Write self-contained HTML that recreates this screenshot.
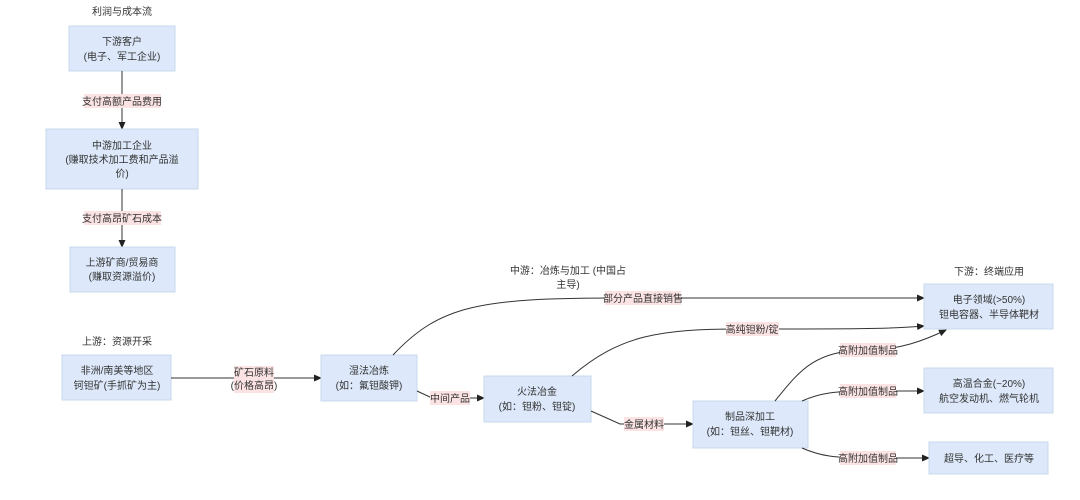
<!DOCTYPE html>
<html><head><meta charset="utf-8"><style>
html,body{margin:0;padding:0;background:#fff;}
svg{display:block;font-family:"Liberation Sans","Noto Sans CJK SC",sans-serif;}
.b{fill:#dde9fa;stroke:#c8d8ee;stroke-width:1;}
.t{font-size:10px;fill:#333;text-anchor:middle;}
.e{fill:none;stroke:#333;stroke-width:1;}
.lb{fill:#fbe3e4;}
</style></head><body>
<svg width="1080" height="500" viewBox="0 0 1080 500">
<defs><marker id="a" markerWidth="8" markerHeight="8" refX="7" refY="4" orient="auto" markerUnits="userSpaceOnUse"><path d="M0,0.5 L8,4 L0,7.5z" fill="#222"/></marker></defs>

<text class="t" x="122" y="15">利润与成本流</text>
<rect class="b" x="69" y="26" width="106" height="45"/>
<text class="t" x="122" y="45">下游客户</text><text class="t" x="122" y="60">(电子、军工企业)</text>
<path class="e" d="M122,71 V129" marker-end="url(#a)"/>
<rect class="lb" x="84" y="94" width="77" height="14"/><text class="t" x="122" y="105">支付高额产品费用</text>
<rect class="b" x="46" y="129" width="152" height="60"/>
<text class="t" x="122" y="149">中游加工企业</text><text class="t" x="122" y="163">(赚取技术加工费和产品溢</text><text class="t" x="122" y="177">价)</text>
<path class="e" d="M122,189 V247" marker-end="url(#a)"/>
<rect class="lb" x="84" y="211" width="77" height="14"/><text class="t" x="122" y="222">支付高昂矿石成本</text>
<rect class="b" x="70" y="247" width="105" height="45"/>
<text class="t" x="122" y="266">上游矿商/贸易商</text><text class="t" x="122" y="280">(赚取资源溢价)</text>

<text class="t" x="117" y="345">上游：资源开采</text>
<rect class="b" x="62" y="355" width="109" height="45"/>
<text class="t" x="117" y="374">非洲/南美等地区</text><text class="t" x="117" y="389">钶钽矿(手抓矿为主)</text>
<path class="e" d="M171,378 H321" marker-end="url(#a)"/>
<rect class="lb" x="234" y="366" width="40" height="27"/><text class="t" x="254" y="376">矿石原料</text><text class="t" x="254" y="389">(价格高昂)</text>

<text class="t" x="568" y="274">中游：冶炼与加工 (中国占</text><text class="t" x="568" y="288">主导)</text>
<rect class="b" x="321" y="355" width="96" height="46"/>
<text class="t" x="369" y="374">湿法冶炼</text><text class="t" x="369" y="389">(如：氟钽酸钾)</text>
<path class="e" d="M417,391 L432,398 H484" marker-end="url(#a)"/>
<rect class="lb" x="430" y="391" width="40" height="14"/><text class="t" x="450" y="402">中间产品</text>
<rect class="b" x="484" y="376" width="107" height="46"/>
<text class="t" x="537" y="395">火法冶金</text><text class="t" x="537" y="410">(如：钽粉、钽锭)</text>
<path class="e" d="M591,411 L620,424 H693" marker-end="url(#a)"/>
<rect class="lb" x="624" y="417" width="40" height="14"/><text class="t" x="644" y="428">金属材料</text>
<rect class="b" x="693" y="401" width="115" height="47"/>
<text class="t" x="750" y="420">制品深加工</text><text class="t" x="750" y="435">(如：钽丝、钽靶材)</text>

<path class="e" d="M393,355 C440,305 480,298 620,298 H924" marker-end="url(#a)"/>
<rect class="lb" x="605" y="291" width="76" height="14"/><text class="t" x="643" y="302">部分产品直接销售</text>
<path class="e" d="M572,376 C620,335 660,329 740,329 C850,329 890,329 924,326" marker-end="url(#a)"/>
<rect class="lb" x="726" y="322" width="53" height="14"/><text class="t" x="752" y="333">高纯钽粉/锭</text>
<path class="e" d="M775,401 C800,370 815,350 868,350 C900,350 925,340 946,330" marker-end="url(#a)"/>
<rect class="lb" x="840" y="343" width="56" height="14"/><text class="t" x="868" y="354">高附加值制品</text>
<path class="e" d="M802,401 C820,393 835,391 868,391 H924" marker-end="url(#a)"/>
<rect class="lb" x="840" y="384" width="56" height="14"/><text class="t" x="868" y="395">高附加值制品</text>
<path class="e" d="M802,448 C820,456 835,458 868,458 H929" marker-end="url(#a)"/>
<rect class="lb" x="840" y="451" width="56" height="14"/><text class="t" x="868" y="462">高附加值制品</text>

<text class="t" x="989" y="275">下游：终端应用</text>
<rect class="b" x="924" y="284" width="129" height="45"/>
<text class="t" x="989" y="303">电子领域(&gt;50%)</text><text class="t" x="989" y="318">钽电容器、半导体靶材</text>
<rect class="b" x="924" y="368" width="129" height="45"/>
<text class="t" x="989" y="387">高温合金(~20%)</text><text class="t" x="989" y="402">航空发动机、燃气轮机</text>
<rect class="b" x="929" y="442" width="119" height="32"/>
<text class="t" x="989" y="462">超导、化工、医疗等</text>
</svg>
</body></html>
